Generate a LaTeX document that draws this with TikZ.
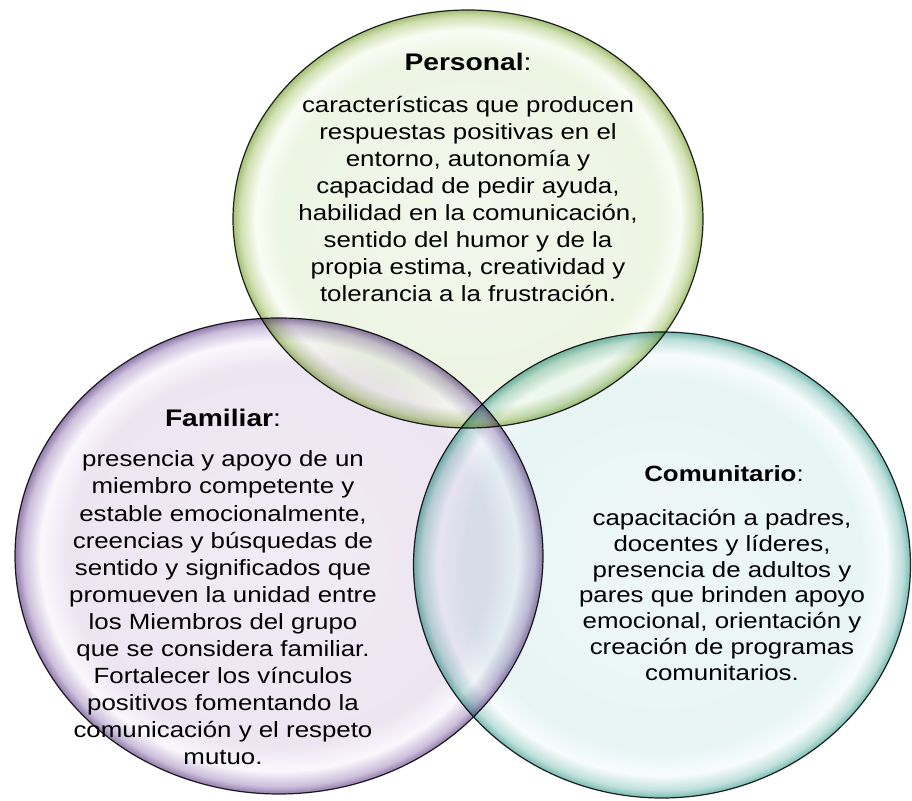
\documentclass[tikz,border=0pt]{standalone}
\usepackage{fontspec}
\setmainfont{Liberation Sans}[FakeStretch=1.175]
\usetikzlibrary{shapes.geometric}
\pgfdeclareradialshading{greenbub}{\pgfpoint{0bp}{0bp}}{%
  rgb(0bp)=(0.95,0.975,0.93); rgb(20bp)=(0.93,0.96,0.89);
  rgb(22.6bp)=(0.98,0.99,0.96); rgb(24.2bp)=(0.82,0.88,0.70);
  rgb(25bp)=(0.64,0.75,0.46); rgb(50bp)=(0.64,0.75,0.46)}
\pgfdeclareradialshading{purplebub}{\pgfpoint{0bp}{0bp}}{%
  rgb(0bp)=(0.945,0.925,0.96); rgb(20bp)=(0.93,0.90,0.95);
  rgb(22.6bp)=(0.98,0.97,0.99); rgb(24.2bp)=(0.80,0.75,0.86);
  rgb(25bp)=(0.57,0.48,0.67); rgb(50bp)=(0.57,0.48,0.67)}
\pgfdeclareradialshading{tealbub}{\pgfpoint{0bp}{0bp}}{%
  rgb(0bp)=(0.935,0.97,0.97); rgb(20bp)=(0.91,0.96,0.96);
  rgb(22.6bp)=(0.97,0.99,0.99); rgb(24.2bp)=(0.75,0.88,0.86);
  rgb(25bp)=(0.47,0.73,0.70); rgb(50bp)=(0.47,0.73,0.70)}
\tikzset{bub/.style={ellipse, draw=black!85, line width=1.2pt, inner sep=0pt, blend mode=multiply}}
\tikzset{hd/.style={font=\fontsize{24}{27}\selectfont, inner sep=0pt}}
\tikzset{txt/.style={align=center, font=\fontsize{22}{27.1}\selectfont, inner sep=0pt}}

\begin{document}
\begin{tikzpicture}[x=1pt, y=1pt]
    \useasboundingbox (0,0) rectangle (912,800);
    % the three circles
    \node (fam) [bub, shading=purplebub, minimum width=528pt, minimum height=476pt] at (279,244) {};
    \node (com) [bub, shading=tealbub, minimum width=497pt, minimum height=466pt] at (662,235) {};
    \node (pers) [bub, shading=greenbub, minimum width=470pt, minimum height=418pt] at (468,581) {};
    % texts
    \node (perstit) [hd] at (468,738) {\textbf{Personal}:};
    \node (perstxt) [txt] at (468,601) {características que producen\\
      respuestas positivas en el\\ entorno, autonomía y\\
      capacidad de pedir ayuda,\\ habilidad en la comunicación,\\
      sentido del humor y de la\\ propia estima, creatividad y\\
      tolerancia a la frustración.};
    \node (famtit) [hd] at (223,382) {\textbf{Familiar}:};
    \node (famtxt) [txt] at (223,192) {presencia y apoyo de un\\
      miembro competente y\\ estable emocionalmente,\\
      creencias y búsquedas de\\ sentido y significados que\\
      promueven la unidad entre\\ los Miembros del grupo\\
      que se considera familiar.\\ Fortalecer los vínculos\\
      positivos fomentando la\\ comunicación y el respeto\\ mutuo.};
    \node (comtit) [hd, font=\fontsize{22}{25}\selectfont] at (724,326) {\textbf{Comunitario}:};
    \node (comtxt) [txt, font=\fontsize{22}{25.8}\selectfont] at (722,205) {capacitación a padres,\\
      docentes y líderes,\\ presencia de adultos y\\
      pares que brinden apoyo\\ emocional, orientación y\\
      creación de programas\\ comunitarios.};
\end{tikzpicture}
\end{document}
